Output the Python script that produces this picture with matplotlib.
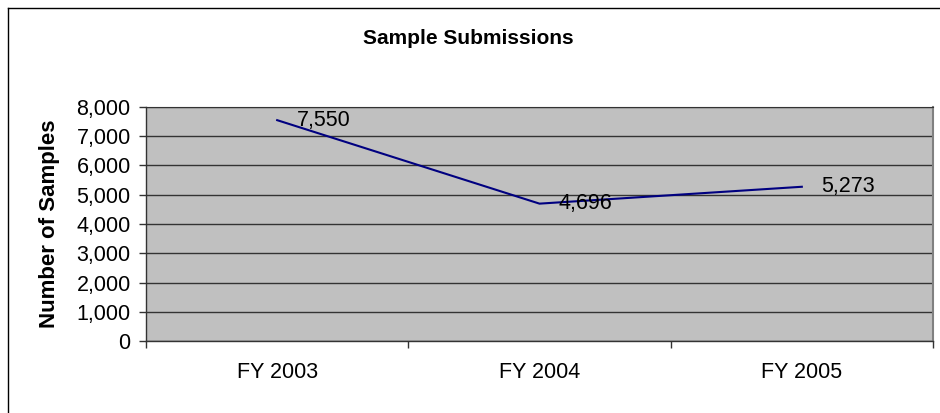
import matplotlib.pyplot as plt
from matplotlib.lines import Line2D
from matplotlib.ticker import FuncFormatter, FixedLocator

plt.rcParams['font.family'] = ['Liberation Sans', 'DejaVu Sans']

# Data
years = ['FY 2003', 'FY 2004', 'FY 2005']
samples = [7550, 4696, 5273]
y_ticks = [0, 1000, 2000, 3000, 4000, 5000, 6000, 7000, 8000]

fig = plt.figure(figsize=(9.4, 4.13), dpi=100)
ax = fig.add_axes([146 / 940, 1 - 341 / 413, (933 - 146) / 940, (341 - 107) / 413])

x = list(range(len(years)))
ax.set_facecolor('#c0c0c0')
ax.plot(x, samples, color='#000080', linewidth=1.5, zorder=3)

# data labels to the right of each point
for xi, v in zip(x, samples):
    ax.annotate(f'{v:,}', (xi, v), xytext=(14, 0), textcoords='offset points',
                ha='left', va='center', fontsize=15.5, color='black', zorder=4)

ax.set_xlim(-0.5, len(years) - 0.5)
ax.set_ylim(0, 8000)
ax.set_yticks(y_ticks)
ax.yaxis.set_major_formatter(FuncFormatter(lambda v, p: f'{int(v):,}'))
ax.grid(axis='y', color='#333333', linewidth=1, zorder=1)
ax.set_axisbelow(True)

ax.set_xticks(x)
ax.set_xticklabels(years)
ax.xaxis.set_minor_locator(FixedLocator([i - 0.5 for i in range(len(years) + 1)]))
ax.tick_params(axis='x', which='major', length=0, pad=15, labelsize=15.5)
ax.tick_params(axis='x', which='minor', length=5, width=1, color='#333333', direction='out')
ax.tick_params(axis='y', length=5, width=1, color='#333333', direction='out', pad=6, labelsize=15.5)

for s in ['left', 'bottom']:
    ax.spines[s].set_color('#333333')
    ax.spines[s].set_linewidth(1)
ax.spines['top'].set_color('#333333')
ax.spines['right'].set_color('#808080')
ax.spines['right'].set_linewidth(1.5)

ax.set_ylabel('Number of Samples', fontsize=16, fontweight='bold', labelpad=12)
fig.text(468 / 940, 1 - 38 / 413, 'Sample Submissions', fontsize=15, fontweight='bold',
         ha='center', va='center')

# outer chart frame (left and top edges visible)
fig.add_artist(Line2D([8 / 940, 8 / 940], [0, 1 - 8 / 413], transform=fig.transFigure,
                      color='black', linewidth=1))
fig.add_artist(Line2D([8 / 940, 1], [1 - 8 / 413, 1 - 8 / 413], transform=fig.transFigure,
                      color='black', linewidth=1))

fig.savefig('out.png', dpi=100)
